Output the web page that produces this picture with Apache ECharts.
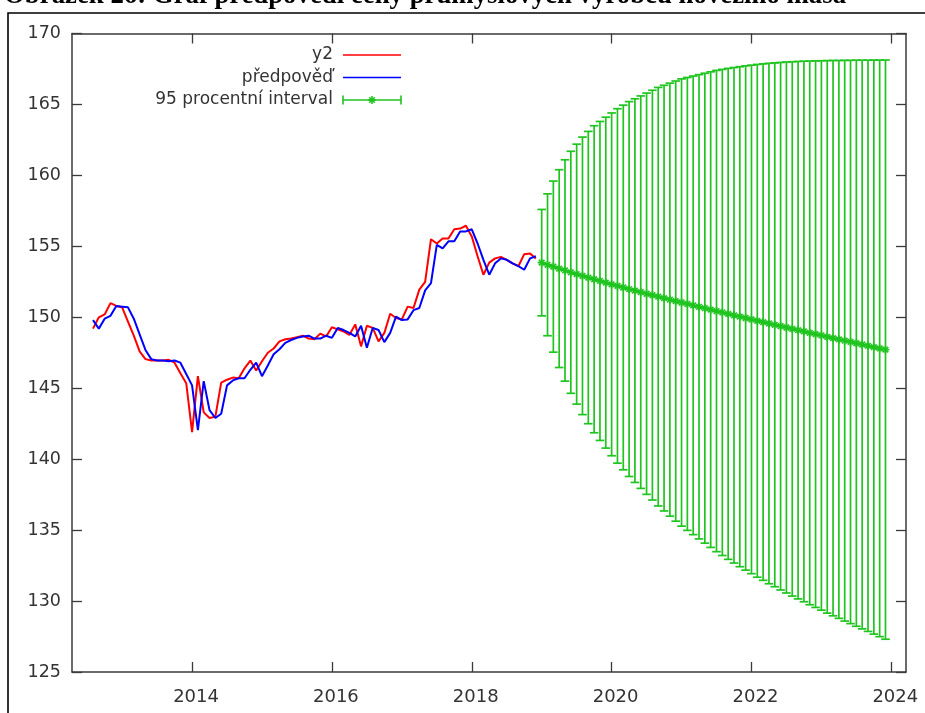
<!DOCTYPE html>
<html>
<head>
<meta charset="utf-8">
<script src="https://cdn.jsdelivr.net/npm/echarts@6/dist/echarts.min.js"></script>
<style>
  html, body { margin: 0; padding: 0; background: #ffffff; }
  #chart { width: 925px; height: 713px; }
</style>
</head>
<body>
<div id="chart"></div>
<script>
// ---- Observed monthly prices (y2) and the one-step model fit (předpověď) ----
const histMonths = [
  '2012-08','2012-09','2012-10','2012-11','2012-12',
  '2013-01','2013-02','2013-03','2013-04','2013-05','2013-06','2013-07','2013-08','2013-09','2013-10','2013-11','2013-12',
  '2014-01','2014-02','2014-03','2014-04','2014-05','2014-06','2014-07','2014-08','2014-09','2014-10','2014-11','2014-12',
  '2015-01','2015-02','2015-03','2015-04','2015-05','2015-06','2015-07','2015-08','2015-09','2015-10','2015-11','2015-12',
  '2016-01','2016-02','2016-03','2016-04','2016-05','2016-06','2016-07','2016-08','2016-09','2016-10','2016-11','2016-12',
  '2017-01','2017-02','2017-03','2017-04','2017-05','2017-06','2017-07','2017-08','2017-09','2017-10','2017-11','2017-12',
  '2018-01','2018-02','2018-03','2018-04','2018-05','2018-06','2018-07','2018-08','2018-09','2018-10','2018-11','2018-12'
];
const y2 = [
  149.2, 150.0, 150.2, 151.0, 150.8,
  150.7, 149.7, 148.7, 147.6, 147.05, 146.95, 146.95, 146.95, 147.0, 146.8, 146.05, 145.35,
  141.9, 145.85, 143.3, 142.9, 143.0, 145.4, 145.6, 145.75, 145.7, 146.4, 146.95, 146.25,
  146.9, 147.5, 147.8, 148.3, 148.45, 148.5, 148.6, 148.7, 148.5, 148.45, 148.85, 148.65,
  149.3, 149.15, 149.0, 148.75, 149.5, 147.95, 149.4, 149.25, 148.3, 148.9, 150.25, 149.95,
  149.85, 150.75, 150.65, 151.95, 152.5, 155.5, 155.2, 155.55, 155.55, 156.2, 156.25, 156.45,
  155.7, 154.3, 153.0, 153.85, 154.15, 154.25, 154.05, 153.8, 153.6, 154.45, 154.5, 154.15
];
const predpoved = [
  149.8, 149.2, 149.9, 150.1, 150.8,
  150.75, 150.7, 149.9, 148.8, 147.7, 147.05, 146.95, 146.95, 146.9, 146.95, 146.8, 146.0,
  145.2, 142.05, 145.5, 143.45, 142.9, 143.2, 145.2, 145.55, 145.7, 145.7, 146.3, 146.8,
  145.85, 146.6, 147.4, 147.75, 148.2, 148.4, 148.55, 148.65, 148.7, 148.5, 148.5, 148.7,
  148.55, 149.25, 149.1, 148.9, 148.65, 149.4, 147.85, 149.25, 149.1, 148.25, 148.9, 150.05,
  149.8, 149.85, 150.5, 150.65, 151.9, 152.4, 155.1, 154.85, 155.35, 155.35, 156.05, 156.05,
  156.2, 155.2, 154.05, 153.0, 153.8, 154.15, 154.05, 153.8, 153.6, 153.35, 154.15, 154.3
];

// ---- Forecast with 95 % interval ----
const fcMonths = [
  '2019-01','2019-02','2019-03','2019-04','2019-05','2019-06','2019-07','2019-08','2019-09','2019-10','2019-11','2019-12',
  '2020-01','2020-02','2020-03','2020-04','2020-05','2020-06','2020-07','2020-08','2020-09','2020-10','2020-11','2020-12',
  '2021-01','2021-02','2021-03','2021-04','2021-05','2021-06','2021-07','2021-08','2021-09','2021-10','2021-11','2021-12',
  '2022-01','2022-02','2022-03','2022-04','2022-05','2022-06','2022-07','2022-08','2022-09','2022-10','2022-11','2022-12',
  '2023-01','2023-02','2023-03','2023-04','2023-05','2023-06','2023-07','2023-08','2023-09','2023-10','2023-11','2023-12'
];
const fcMid = [
  153.85, 153.7, 153.57, 153.43, 153.3, 153.17, 153.04, 152.92, 152.8, 152.68, 152.56, 152.44,
  152.32, 152.21, 152.1, 151.99, 151.88, 151.77, 151.66, 151.56, 151.45, 151.35, 151.24, 151.14,
  151.04, 150.94, 150.84, 150.74, 150.64, 150.54, 150.44, 150.34, 150.24, 150.14, 150.04, 149.95,
  149.85, 149.75, 149.66, 149.56, 149.47, 149.37, 149.28, 149.18, 149.09, 149.0, 148.9, 148.81,
  148.72, 148.62, 148.53, 148.44, 148.35, 148.26, 148.17, 148.08, 147.99, 147.9, 147.81, 147.72
];
const fcLow = [
  150.1, 148.7, 147.54, 146.46, 145.5, 144.64, 143.88, 143.14, 142.5, 141.86, 141.32, 140.78,
  140.24, 139.72, 139.25, 138.78, 138.36, 137.94, 137.52, 137.12, 136.7, 136.35, 135.98, 135.63,
  135.28, 134.98, 134.68, 134.38, 134.08, 133.78, 133.48, 133.21, 132.94, 132.68, 132.42, 132.18,
  131.93, 131.68, 131.46, 131.22, 131.01, 130.78, 130.57, 130.35, 130.15, 129.95, 129.74, 129.55,
  129.36, 129.15, 128.96, 128.78, 128.59, 128.41, 128.22, 128.04, 127.86, 127.67, 127.49, 127.31
];
const fcHigh = [
  157.6, 158.7, 159.6, 160.4, 161.1, 161.7, 162.2, 162.7, 163.1, 163.5, 163.8, 164.1,
  164.4, 164.7, 164.95, 165.2, 165.4, 165.6, 165.8, 166.0, 166.2, 166.35, 166.5, 166.65,
  166.8, 166.9, 167.0, 167.1, 167.2, 167.3, 167.4, 167.47, 167.54, 167.6, 167.66, 167.72,
  167.77, 167.82, 167.86, 167.9, 167.93, 167.96, 167.99, 168.01, 168.03, 168.05, 168.06, 168.07,
  168.08, 168.09, 168.1, 168.1, 168.11, 168.11, 168.12, 168.12, 168.12, 168.13, 168.13, 168.13
];

// ---- Axis ticks ----
const yearTicks = [2014, 2016, 2018, 2020, 2022, 2024];
const yMin = 125, yMax = 170, yStep = 5;
const xMin = 2012.283, xMax = 2024.21;

const titleText = 'Obrázek 26: Graf předpovědi ceny průmyslových výrobců hovězího masa';
const legendNames = ['y2', 'předpověď', '95 procentní interval'];

const RED = '#ff0000', BLUE = '#0000ff', GREEN = '#1fc41f';
const AXIS = '#3a3a3a', TEXT = '#333333';
const FONT = 'DejaVu Sans, Verdana, sans-serif';

// "YYYY-MM" -> decimal year (start of month)
function toYear(s) {
  const p = s.split('-');
  return Number(p[0]) + (Number(p[1]) - 1) / 12;
}

const y2Data = histMonths.map((m, i) => [toYear(m), y2[i]]);
const fitData = histMonths.map((m, i) => [toYear(m), predpoved[i]]);
const fcData = fcMonths.map((m, i) => [toYear(m), fcLow[i], fcHigh[i], fcMid[i]]);
const fcLine = fcMonths.map((m, i) => [toYear(m), fcMid[i]]);

function renderErrorBar(params, api) {
  const x = api.value(0);
  const lo = api.coord([x, api.value(1)]);
  const hi = api.coord([x, api.value(2)]);
  const mid = api.coord([x, api.value(3)]);
  const cap = 4.3, s = 4;
  const st = { stroke: GREEN, lineWidth: 1.7 };
  const seg = (x1, y1, x2, y2) => ({ type: 'line', shape: { x1, y1, x2, y2 }, style: st });
  return {
    type: 'group',
    children: [
      seg(lo[0], lo[1], hi[0], hi[1]),
      seg(lo[0] - cap, lo[1], lo[0] + cap, lo[1]),
      seg(hi[0] - cap, hi[1], hi[0] + cap, hi[1]),
      // asterisk marker at the point forecast
      seg(mid[0] - s, mid[1], mid[0] + s, mid[1]),
      seg(mid[0], mid[1] - s, mid[0], mid[1] + s),
      seg(mid[0] - s * 0.7, mid[1] - s * 0.7, mid[0] + s * 0.7, mid[1] + s * 0.7),
      seg(mid[0] - s * 0.7, mid[1] + s * 0.7, mid[0] + s * 0.7, mid[1] - s * 0.7)
    ]
  };
}

// legend in the upper-left part of the plot, text right-aligned before the key
const legendX = 333, keyX1 = 343, keyX2 = 401;
const legendRows = [55, 77.5, 100];
const legendGraphics = [];
legendNames.forEach((name, i) => {
  legendGraphics.push({
    type: 'text', x: legendX, y: legendRows[i],
    style: { text: name, fill: TEXT, font: '17px ' + FONT, textAlign: 'right', textVerticalAlign: 'middle' },
    z: 10
  });
});
const gk = { stroke: GREEN, lineWidth: 1.6 };
const ky = legendRows[2];
legendGraphics.push(
  { type: 'line', shape: { x1: keyX1, y1: legendRows[0], x2: keyX2, y2: legendRows[0] }, style: { stroke: RED, lineWidth: 1.6 }, z: 10 },
  { type: 'line', shape: { x1: keyX1, y1: legendRows[1], x2: keyX2, y2: legendRows[1] }, style: { stroke: BLUE, lineWidth: 1.6 }, z: 10 },
  { type: 'line', shape: { x1: keyX1, y1: ky, x2: keyX2, y2: ky }, style: gk, z: 10 },
  { type: 'line', shape: { x1: keyX1, y1: ky - 4.5, x2: keyX1, y2: ky + 4.5 }, style: gk, z: 10 },
  { type: 'line', shape: { x1: keyX2, y1: ky - 4.5, x2: keyX2, y2: ky + 4.5 }, style: gk, z: 10 },
  { type: 'line', shape: { x1: 368, y1: ky, x2: 376, y2: ky }, style: gk, z: 10 },
  { type: 'line', shape: { x1: 372, y1: ky - 4, x2: 372, y2: ky + 4 }, style: gk, z: 10 },
  { type: 'line', shape: { x1: 369.2, y1: ky - 2.8, x2: 374.8, y2: ky + 2.8 }, style: gk, z: 10 },
  { type: 'line', shape: { x1: 369.2, y1: ky + 2.8, x2: 374.8, y2: ky - 2.8 }, style: gk, z: 10 }
);

const chart = echarts.init(document.getElementById('chart'), null, { renderer: 'canvas' });

const tickStyle = { color: AXIS, width: 1.3 };
const lineAxis = { show: true, lineStyle: { color: AXIS, width: 1.5 } };

chart.setOption({
  animation: false,
  backgroundColor: '#ffffff',
  grid: { left: 72, top: 33.5, right: 19, bottom: 41, containLabel: false, outerBoundsMode: 'none' },
  graphic: [
    // caption above the figure frame
    {
      type: 'text', x: 4, y: 10,
      style: { text: titleText, fill: '#000', font: 'bold 26.8px "Liberation Serif", "Times New Roman", serif', textVerticalAlign: 'bottom' }
    },
    // figure frame
    {
      type: 'rect', shape: { x: 8, y: 13, width: 1000, height: 1000 },
      style: { fill: 'none', stroke: '#000', lineWidth: 1.6 }, silent: true
    }
  ].concat(legendGraphics),
  xAxis: [
    {
      type: 'value', position: 'bottom', min: xMin, max: xMax,
      axisLine: lineAxis,
      axisTick: { inside: true, length: 10, customValues: yearTicks, lineStyle: tickStyle },
      axisLabel: {
        customValues: yearTicks, formatter: v => String(Math.round(v)),
        color: TEXT, fontSize: 18, fontFamily: FONT, margin: 16, padding: [0, 0, 0, 8]
      },
      splitLine: { show: false }
    },
    {
      type: 'value', position: 'top', min: xMin, max: xMax,
      axisLine: lineAxis,
      axisTick: { inside: true, length: 10, customValues: yearTicks, lineStyle: tickStyle },
      axisLabel: { show: false },
      splitLine: { show: false }
    }
  ],
  yAxis: [
    {
      type: 'value', position: 'left', min: yMin, max: yMax, interval: yStep,
      axisLine: lineAxis,
      axisTick: { inside: true, length: 10, lineStyle: tickStyle },
      axisLabel: { color: TEXT, fontSize: 17.5, fontFamily: FONT, margin: 11 },
      splitLine: { show: false }
    },
    {
      type: 'value', position: 'right', min: yMin, max: yMax, interval: yStep,
      axisLine: lineAxis,
      axisTick: { inside: true, length: 10, lineStyle: tickStyle },
      axisLabel: { show: false },
      splitLine: { show: false }
    }
  ],
  series: [
    {
      name: legendNames[0], type: 'line', data: y2Data, showSymbol: false, symbol: 'none',
      lineStyle: { color: RED, width: 2 }, z: 3
    },
    {
      name: legendNames[1], type: 'line', data: fitData, showSymbol: false, symbol: 'none',
      lineStyle: { color: BLUE, width: 2 }, z: 4
    },
    {
      name: legendNames[2] + ' (střed)', type: 'line', data: fcLine, showSymbol: false, symbol: 'none',
      lineStyle: { color: GREEN, width: 1.8 }, z: 5
    },
    {
      name: legendNames[2], type: 'custom', data: fcData, renderItem: renderErrorBar,
      encode: { x: 0, y: [1, 2] }, z: 5
    }
  ]
});
</script>
</body>
</html>
